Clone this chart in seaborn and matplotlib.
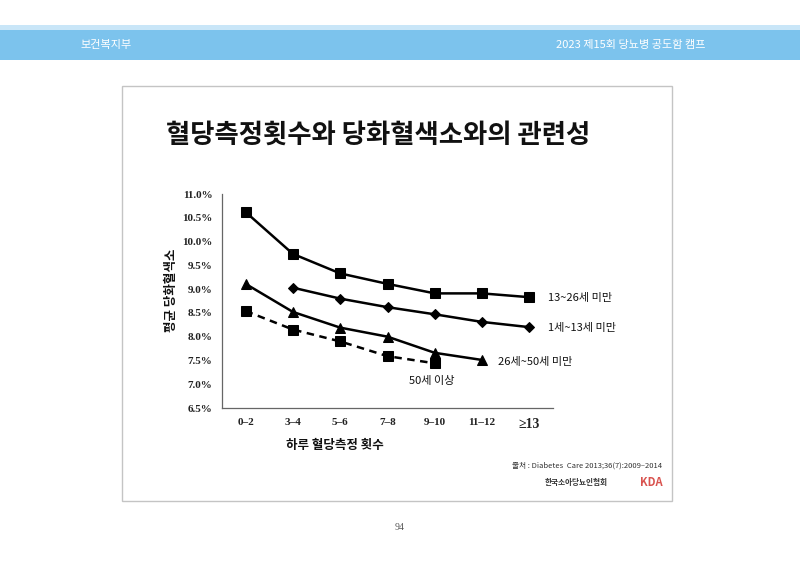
import matplotlib
matplotlib.use("Agg")
import matplotlib.pyplot as plt
import matplotlib.patches as mpatches
import seaborn as sns
import pandas as pd
import numpy as np

# ---- data ----
categories = ["0–2", "3–4", "5–6", "7–8", "9–10", "11–12", "≥13"]
series_names = ["13~26세 미만", "1세~13세 미만", "26세~50세 미만", "50세 이상"]
vals_13_26 = [10.62, 9.74, 9.33, 9.11, 8.91, 8.91, 8.83]
vals_1_13 = [None, 9.03, 8.80, 8.62, 8.47, 8.31, 8.20]
vals_26_50 = [9.11, 8.52, 8.19, 8.00, 7.66, 7.51, None]
vals_50 = [8.54, 8.15, 7.90, 7.59, 7.44, None, None]
ytick_vals = [6.5, 7.0, 7.5, 8.0, 8.5, 9.0, 9.5, 10.0, 10.5, 11.0]

rows = []
for name, vals in zip(series_names, [vals_13_26, vals_1_13, vals_26_50, vals_50]):
    for i, v in enumerate(vals):
        if v is not None:
            rows.append({"pos": i, "cat": categories[i], "group": name, "val": v})
df = pd.DataFrame(rows)

sns.set_theme(style="white")
plt.rcParams["font.family"] = ["Noto Sans CJK KR", "DejaVu Sans"]

fig = plt.figure(figsize=(8, 5.66), dpi=100)
W, H = 800, 566

def fx(px):
    return px / W

def fy(py):
    return 1 - py / H

# header band
fig.patches.append(mpatches.Rectangle((0, fy(30)), 1, (30 - 25) / H, transform=fig.transFigure,
                                      facecolor="#c9e6f8", edgecolor="none", zorder=-2))
fig.patches.append(mpatches.Rectangle((0, fy(60)), 1, 30 / H, transform=fig.transFigure,
                                      facecolor="#7cc3ed", edgecolor="none", zorder=-2))
fig.text(fx(80), fy(45), "보건복지부", color="white", fontsize=8, va="center", ha="left")
fig.text(fx(706), fy(45), "2023 제15회 당뇨병 공도함 캠프", color="white", fontsize=8,
         va="center", ha="right")

# slide frame
fig.patches.append(mpatches.Rectangle((fx(122), fy(501)), (672 - 122) / W, (501 - 86) / H,
                                      transform=fig.transFigure, facecolor="white",
                                      edgecolor="#c4c4c4", linewidth=1.0, zorder=-2))

# title
fig.text(fx(378), fy(135), "혈당측정횟수와 당화혈색소와의 관련성", fontsize=19,
         fontweight="bold", ha="center", va="center", color="#111111")

# axes
ax = fig.add_axes([fx(222), fy(408), (553 - 222) / W, (408 - 194) / H])
ax.set_zorder(2)
markers = {series_names[0]: "s", series_names[1]: "D", series_names[2]: "^", series_names[3]: "s"}
sizes_m = {series_names[0]: 6.5, series_names[1]: 5, series_names[2]: 7, series_names[3]: 6.5}
for name in series_names:
    sub = df[df["group"] == name]
    line_ls = (0, (3, 2.2)) if name == series_names[3] else "-"
    sns.lineplot(data=sub, x="pos", y="val", ax=ax, color="black", linewidth=1.8,
                 marker=markers[name], markersize=sizes_m[name], markeredgecolor="black",
                 legend=False)
    ax.lines[-1].set_linestyle(line_ls)

ax.set_xlim(-0.5, 6.5)
ax.set_ylim(6.5, 11.0)
ax.set_xticks(range(len(categories)))
ax.set_xticklabels(categories)
ax.set_xticks(np.arange(-0.5, 7.0, 1.0), minor=True)
ax.set_yticks(ytick_vals)
ax.set_yticklabels([f"{v:.1f}%" for v in ytick_vals])
ax.tick_params(axis="x", which="major", length=0, pad=7)
ax.tick_params(axis="x", which="minor", length=4, direction="in", color="#555555", width=0.8)
ax.tick_params(axis="y", which="major", length=4, direction="out", color="#555555", width=0.8, pad=3)
for lab in ax.get_xticklabels() + ax.get_yticklabels():
    lab.set_fontfamily(["Liberation Serif", "DejaVu Serif"])
    lab.set_fontweight("bold")
    lab.set_fontsize(8)
    lab.set_color("#222222")
ax.get_xticklabels()[-1].set_fontsize(10)
for s in ["top", "right"]:
    ax.spines[s].set_visible(False)
for s in ["left", "bottom"]:
    ax.spines[s].set_color("#666666")
    ax.spines[s].set_linewidth(0.9)
ax.set_xlabel("")
ax.set_ylabel("")
ax.patch.set_alpha(0)

# axis titles
fig.text(fx(172), fy(290), "평균 당화혈색소", rotation=90, fontsize=9, fontweight="bold",
         ha="center", va="center", color="#111111")
fig.text(fx(335), fy(445), "하루 혈당측정 횟수", fontsize=9, fontweight="bold",
         ha="center", va="center", color="#111111")

# series labels
fig.text(fx(548), fy(298), series_names[0], fontsize=8, ha="left", va="center",
         color="#111111", fontweight="medium")
fig.text(fx(548), fy(328), series_names[1], fontsize=8, ha="left", va="center",
         color="#111111", fontweight="medium")
fig.text(fx(498), fy(362), series_names[2], fontsize=8, ha="left", va="center",
         color="#111111", fontweight="medium")
fig.text(fx(432), fy(381), series_names[3], fontsize=8, ha="center", va="center",
         color="#111111", fontweight="medium")

# source and logos
fig.text(fx(662), fy(466), "출처 : Diabetes  Care 2013;36(7):2009–2014", fontsize=5.5,
         ha="right", va="center", color="#333333")
fig.text(fx(545), fy(482), "한국소아당뇨인협회", fontsize=5.5, ha="left", va="center",
         color="#333333", fontweight="bold")
fig.text(fx(640), fy(483), "KDA", fontsize=8, ha="left", va="center", color="#d9534f",
         fontweight="bold")

# page number
fig.text(fx(400), fy(527), "94", fontsize=7, ha="center", va="center", color="#555555",
         family=["Liberation Serif", "DejaVu Serif"])

fig.savefig("out.png", dpi=100)
